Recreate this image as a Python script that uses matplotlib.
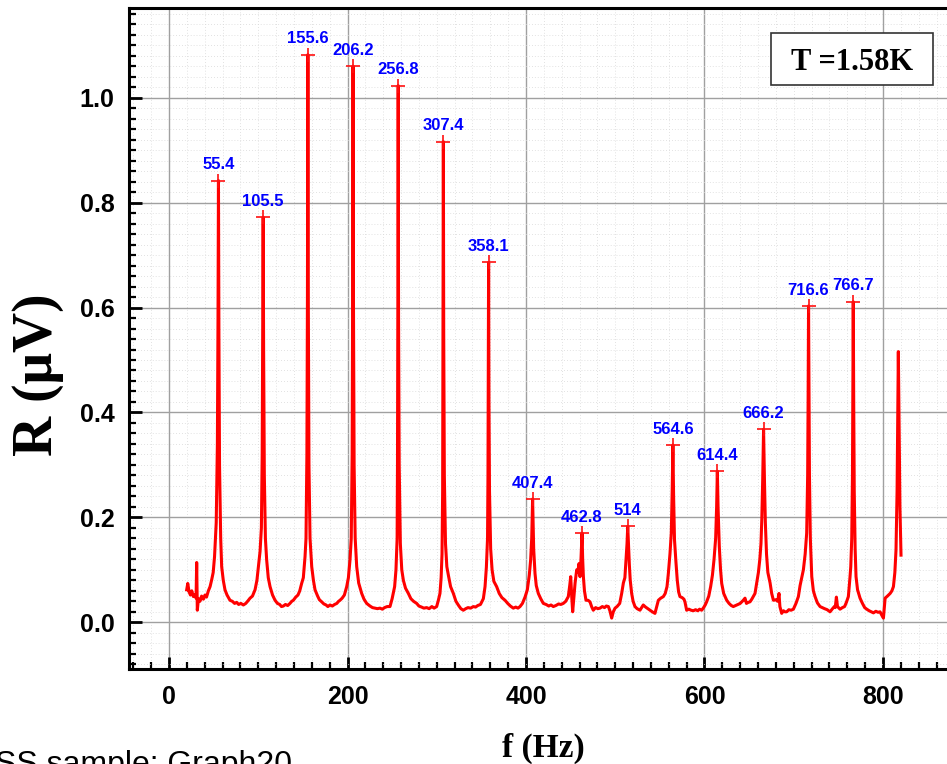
import matplotlib
matplotlib.use('Agg')
import matplotlib.pyplot as plt
from matplotlib.ticker import MultipleLocator, FormatStrFormatter
from matplotlib.patches import Rectangle

# ---- spectrum trace ----
freq = (
    [19.8, 21.0, 22.5, 24.0, 25.5, 27.3, 29.0, 30.3, 31.0, 31.7, 33.0, 34.7, 36.5, 38.5, 40.3, 42.0, 44.1, 46.0]
    + [47.8, 49.5, 51.0, 52.9, 54.2, 54.9, 55.4, 55.9, 56.6, 57.9, 59.0, 60.8, 62.7, 65.0, 68.3]
    + [71.0, 73.5, 75.8, 78.0, 80.5, 83.3, 86.0, 88.5, 90.8, 93.5, 96.4]
    + [98.5, 100.1, 102.0, 103.5, 104.4, 105.0, 105.5, 106.0, 106.8, 108.0, 109.4, 111.2, 113.2, 116.0, 118.8]
    + [121.5, 124.0, 126.0, 128.1, 130.5, 133.0, 135.5, 137.5, 139.3, 142.0, 144.5, 146.5]
    + [148.6, 150.5, 152.4, 153.5, 154.5, 155.1, 155.6, 156.1, 156.8, 158.0, 159.9, 161.8, 163.6, 166.5, 168.5, 171.1]
    + [173.5, 176.0, 178.0, 180.4, 183.0, 185.5, 188.0, 190.0, 191.6, 194.0, 196.5, 199.1]
    + [201.0, 202.8, 204.2, 205.2, 205.7, 206.2, 206.7, 207.4, 208.6, 210.3, 212.5, 215.9, 218.5, 221.5, 225.2]
    + [228.0, 230.5, 233.5, 236.4, 239.0, 241.5, 244.5, 247.6, 250.0, 252.8]
    + [254.3, 255.6, 256.0, 256.4, 256.8, 257.2, 257.9, 259.2, 260.8, 262.6, 265.0, 268.2, 271.0, 274.0, 277.5]
    + [280.0, 283.0, 285.5, 288.7, 291.5, 294.5, 297.0, 299.9, 301.8]
    + [303.6, 304.9, 305.9, 306.6, 307.0, 307.4, 307.8, 308.5, 309.8, 311.3, 313.0, 315.5, 318.6, 321.5, 324.5, 327.0, 329.8]
    + [332.5, 335.0, 338.0, 341.0, 343.5, 346.0, 349.0, 352.2]
    + [354.1, 355.6, 356.9, 357.4, 357.7, 358.1, 358.5, 359.1, 360.4, 362.0, 364.0, 367.1, 370.0, 373.0, 376.5]
    + [379.5, 382.5, 385.8, 388.5, 391.0, 393.3, 396.0, 398.9]
    + [401.5, 403.7, 405.2, 406.4, 407.0, 407.4, 407.8, 408.6, 410.1, 411.5, 413.8, 416.5, 419.4]
    + [422.5, 425.5, 428.0, 430.6, 433.5, 436.5, 439.0, 441.8, 444.5, 447.4, 449.0, 450.1, 451.2, 452.3, 453.5,
       455.0, 456.8, 458.0, 459.4, 460.5, 461.6, 462.8, 463.5, 464.3, 465.5, 467.2]
    + [469.5, 471.7, 473.5, 475.4, 478.0, 480.5, 482.9, 485.5, 488.0, 490.0, 492.3, 494.0, 496.0, 497.8, 499.8, 502.0, 505.0]
    + [507.2, 509.1, 510.8, 512.1, 513.2, 514.0, 514.8, 515.8, 516.8, 518.4, 520.0, 522.1]
    + [524.5, 527.7, 529.5, 531.4, 534.0, 536.5, 538.9, 541.5, 544.5, 546.5, 548.3, 551.0, 553.9, 556.0, 558.0]
    + [559.5, 561.3, 562.8, 563.8, 564.6, 565.4, 566.4, 568.0, 569.5, 571.0, 572.5, 575.0, 577.0, 578.1, 580.0]
    + [582.5, 585.0, 587.5, 590.0, 592.5, 594.5, 596.8, 599.0, 600.8, 602.4, 604.8]
    + [606.9, 608.9, 610.7, 612.5, 613.6, 614.4, 615.2, 616.6, 618.0, 619.3, 621.5, 624.9]
    + [627.5, 630.0, 632.3, 635.0, 637.5, 640.0, 641.7, 643.5, 645.4, 647.0, 649.0, 651.0, 653.0, 655.0, 656.6]
    + [658.5, 660.4, 662.0, 663.3, 664.2, 665.2, 665.8, 666.2, 666.6, 667.2, 668.2, 669.5, 671.0, 673.5, 675.3, 677.2]
    + [680.0, 682.0, 683.5, 684.5, 686.5, 688.5, 690.0, 692.1, 694.5, 697.0, 699.6, 702.5, 705.2]
    + [707.1, 709.0, 710.8, 712.8, 714.5, 715.6, 716.1, 716.6, 717.1, 717.6, 718.6, 720.2, 722.0, 723.9, 726.5, 729.5]
    + [732.0, 734.5, 737.5, 740.7, 743.0, 745.5, 746.5, 747.8, 749.0, 751.9, 754.5, 757.0, 759.0, 761.2]
    + [763.0, 763.9, 765.0, 765.8, 766.2, 766.7, 767.2, 767.8, 768.8, 769.8, 771.5, 774.3, 777.0, 779.5, 781.8]
    + [784.5, 787.0, 789.3, 792.0, 794.5, 796.7, 798.5, 800.5, 802.4, 805.0, 808.0, 810.0, 811.7, 813.3, 814.6,
       815.8, 816.6, 817.2, 818.0, 819.0, 820.2]
)
resp = (
    [0.062, 0.074, 0.058, 0.052, 0.060, 0.049, 0.053, 0.046, 0.114, 0.023, 0.045, 0.040, 0.050, 0.044, 0.052, 0.048, 0.060, 0.068]
    + [0.081, 0.095, 0.125, 0.190, 0.340, 0.580, 0.842, 0.550, 0.300, 0.160, 0.106, 0.080, 0.062, 0.052, 0.042]
    + [0.040, 0.036, 0.038, 0.034, 0.036, 0.033, 0.036, 0.041, 0.046, 0.050, 0.062]
    + [0.080, 0.106, 0.135, 0.180, 0.320, 0.550, 0.772, 0.520, 0.280, 0.160, 0.119, 0.085, 0.068, 0.052, 0.042]
    + [0.036, 0.034, 0.030, 0.031, 0.034, 0.032, 0.036, 0.040, 0.042, 0.048, 0.052, 0.060]
    + [0.074, 0.085, 0.125, 0.160, 0.320, 0.620, 1.082, 0.600, 0.300, 0.160, 0.106, 0.080, 0.062, 0.050, 0.043, 0.039]
    + [0.035, 0.033, 0.030, 0.033, 0.031, 0.034, 0.036, 0.040, 0.042, 0.046, 0.052, 0.068]
    + [0.085, 0.119, 0.160, 0.320, 0.600, 1.060, 0.600, 0.300, 0.160, 0.106, 0.075, 0.055, 0.044, 0.036, 0.031]
    + [0.028, 0.027, 0.026, 0.027, 0.025, 0.028, 0.030, 0.030, 0.045, 0.068]
    + [0.100, 0.160, 0.300, 0.600, 1.023, 0.580, 0.300, 0.150, 0.100, 0.080, 0.065, 0.055, 0.045, 0.040, 0.036]
    + [0.031, 0.029, 0.027, 0.028, 0.026, 0.030, 0.027, 0.030, 0.042]
    + [0.055, 0.085, 0.130, 0.250, 0.550, 0.916, 0.550, 0.280, 0.150, 0.106, 0.090, 0.068, 0.055, 0.040, 0.032, 0.026, 0.023]
    + [0.026, 0.028, 0.027, 0.030, 0.029, 0.032, 0.034, 0.045]
    + [0.068, 0.105, 0.160, 0.280, 0.450, 0.686, 0.420, 0.250, 0.140, 0.100, 0.078, 0.068, 0.055, 0.047, 0.042]
    + [0.036, 0.031, 0.027, 0.029, 0.027, 0.030, 0.036, 0.048]
    + [0.062, 0.090, 0.119, 0.160, 0.205, 0.235, 0.200, 0.140, 0.093, 0.070, 0.055, 0.045, 0.036]
    + [0.034, 0.031, 0.033, 0.030, 0.032, 0.035, 0.034, 0.036, 0.040, 0.049, 0.070, 0.087, 0.050, 0.020, 0.045,
       0.075, 0.100, 0.095, 0.112, 0.087, 0.120, 0.170, 0.120, 0.087, 0.060, 0.042]
    + [0.042, 0.039, 0.030, 0.023, 0.028, 0.026, 0.027, 0.030, 0.028, 0.031, 0.030, 0.022, 0.008, 0.020, 0.027, 0.030, 0.036]
    + [0.055, 0.075, 0.085, 0.120, 0.150, 0.183, 0.150, 0.110, 0.080, 0.055, 0.040, 0.030]
    + [0.026, 0.023, 0.028, 0.033, 0.029, 0.026, 0.023, 0.020, 0.017, 0.030, 0.042, 0.046, 0.049, 0.055, 0.068]
    + [0.093, 0.130, 0.170, 0.250, 0.338, 0.240, 0.157, 0.115, 0.080, 0.058, 0.049, 0.047, 0.044, 0.039, 0.023]
    + [0.025, 0.023, 0.022, 0.024, 0.022, 0.025, 0.023, 0.028, 0.033, 0.039, 0.050]
    + [0.068, 0.090, 0.120, 0.160, 0.220, 0.288, 0.220, 0.144, 0.100, 0.074, 0.055, 0.042]
    + [0.036, 0.032, 0.030, 0.032, 0.034, 0.036, 0.039, 0.042, 0.046, 0.036, 0.038, 0.039, 0.044, 0.050, 0.055]
    + [0.075, 0.095, 0.120, 0.150, 0.195, 0.270, 0.330, 0.368, 0.330, 0.270, 0.190, 0.130, 0.095, 0.075, 0.055, 0.042]
    + [0.043, 0.040, 0.055, 0.030, 0.017, 0.022, 0.020, 0.020, 0.024, 0.023, 0.025, 0.036, 0.049]
    + [0.070, 0.085, 0.100, 0.130, 0.170, 0.280, 0.420, 0.603, 0.420, 0.280, 0.160, 0.087, 0.060, 0.049, 0.037, 0.030]
    + [0.028, 0.026, 0.024, 0.020, 0.025, 0.030, 0.028, 0.048, 0.030, 0.025, 0.028, 0.030, 0.038, 0.049]
    + [0.085, 0.106, 0.160, 0.280, 0.420, 0.611, 0.420, 0.250, 0.140, 0.087, 0.062, 0.046, 0.036, 0.028, 0.025]
    + [0.022, 0.020, 0.018, 0.021, 0.019, 0.020, 0.014, 0.008, 0.046, 0.050, 0.055, 0.060, 0.068, 0.095, 0.138,
       0.250, 0.400, 0.516, 0.380, 0.220, 0.128]
)

# ---- labelled peaks ----
peak_freq = [55.4, 105.5, 155.6, 206.2, 256.8, 307.4, 358.1, 407.4, 462.8, 514.0, 564.6, 614.4, 666.2, 716.6, 766.7]
peak_r = [0.842, 0.772, 1.082, 1.060, 1.023, 0.916, 0.686, 0.235, 0.170, 0.183, 0.338, 0.288, 0.368, 0.603, 0.611]
peak_labels = ['55.4', '105.5', '155.6', '206.2', '256.8', '307.4', '358.1', '407.4', '462.8', '514',
               '564.6', '614.4', '666.2', '716.6', '766.7']

x_ticks = [0, 200, 400, 600, 800]
y_ticks = [0.0, 0.2, 0.4, 0.6, 0.8, 1.0]

W, H = 947, 764
fig = plt.figure(figsize=(W / 100, H / 100), dpi=100)
fig.patch.set_facecolor('white')
ax = fig.add_axes([128.5 / W, 1 - 669.3 / H, 0.8721, (669.3 - 8.3) / H])

ax.plot(freq, resp, color='#ff0000', lw=2.2, zorder=3, solid_joinstyle='round')
ax.plot(peak_freq, peak_r, linestyle='none', marker='+', ms=10, mew=1.2, color='#ff1010', zorder=4)
for f, r, lab in zip(peak_freq, peak_r, peak_labels):
    ax.annotate(lab, (f, r), xytext=(0, 6), textcoords='offset points', ha='center', va='bottom',
                color='#0000ff', fontsize=12, fontweight='bold', family='Liberation Sans', zorder=5)

ax.set_xlim(-45.4, 880)
ax.set_ylim(-0.0896, 1.1704)
ax.set_xticks(x_ticks)
ax.set_yticks(y_ticks)
ax.xaxis.set_minor_locator(MultipleLocator(20))
ax.yaxis.set_minor_locator(MultipleLocator(0.02))
ax.yaxis.set_major_formatter(FormatStrFormatter('%.1f'))

ax.set_axisbelow(True)
ax.grid(which='major', color='#a0a0a0', lw=1.0)
ax.grid(which='minor', color='#d8d8d8', lw=0.6, linestyle=(0, (1, 2.5)))

for s in ax.spines.values():
    s.set_linewidth(2.2)
    s.set_color('black')

ax.tick_params(which='both', direction='in', top=False, right=False, colors='black')
ax.tick_params(which='major', length=9, width=2.0, labelsize=18)
ax.tick_params(which='minor', length=5, width=1.6)
ax.tick_params(axis='x', pad=11)
ax.tick_params(axis='y', pad=10)
for lab in ax.get_xticklabels() + ax.get_yticklabels():
    lab.set_fontweight('bold')
    lab.set_family('Liberation Sans')

# axis titles
fig.text(38 / W, 1 - 375 / H, 'R (\u03bcV)', rotation=90, ha='center', va='center',
         fontsize=40, fontweight='bold', family='Liberation Serif')
fig.text(543 / W, 1 - 757 / H, 'f (Hz)', ha='center', va='baseline',
         fontsize=24, fontweight='bold', family='Liberation Serif')

# temperature box
fig.add_artist(Rectangle((771 / W, 1 - 85 / H), 162 / W, 52 / H, transform=fig.transFigure,
                         facecolor='white', edgecolor='#333333', lw=1.2, zorder=6))
fig.text(852 / W, 1 - 70 / H, 'T =1.58K', ha='center', va='baseline', fontsize=22,
         fontweight='bold', family='Liberation Serif', zorder=7)

# footer caption (partly outside the canvas in the reference)
fig.text(-5 / W, 1 - 773 / H, 'SS sample: Graph20', ha='left', va='baseline', fontsize=23,
         family='Liberation Sans', color='black')

fig.savefig('out.png', dpi=100)
